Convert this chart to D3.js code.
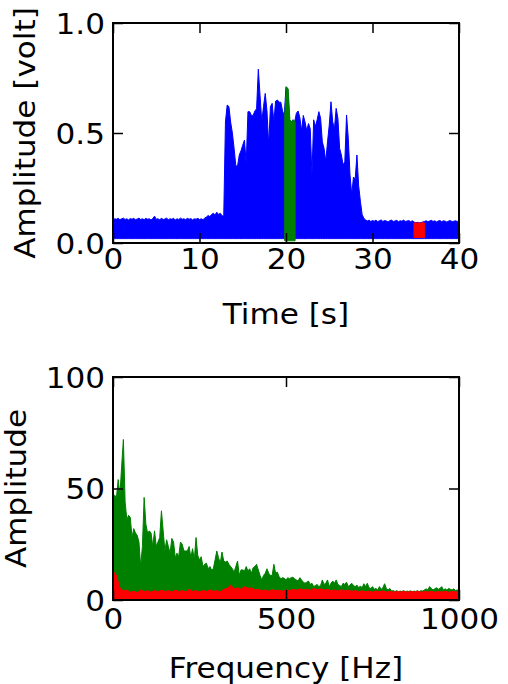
<!DOCTYPE html>
<html>
<head>
<meta charset="utf-8">
<script src="https://cdn.jsdelivr.net/npm/d3@7"></script>
<style>
  body { margin: 0; background: #fff; }
  svg { display: block; font-family: "DejaVu Sans", sans-serif; }
  .tick text { font-size: 28px; fill: #000; }
  .axis-label { font-size: 28px; fill: #000; }
</style>
</head>
<body>
<svg id="chart"></svg>
<script>
// Time signal: upper envelope of the trace, one value every 0.2 s (0 .. 40 s)
const signalStep = 0.2;
const signalPeaks = [
  0.105, 0.110, 0.108, 0.112, 0.106, 0.110, 0.113, 0.107, 0.110, 0.105,
  0.111, 0.108, 0.112, 0.106, 0.109, 0.113, 0.107, 0.110, 0.106, 0.112,
  0.108, 0.110, 0.105, 0.111, 0.122, 0.108, 0.110, 0.106, 0.112, 0.107,
  0.109, 0.113, 0.106, 0.110, 0.108, 0.112, 0.105, 0.110, 0.107, 0.113,
  0.108, 0.110, 0.106, 0.112, 0.108, 0.111, 0.105, 0.110, 0.108, 0.112,
  0.107, 0.110, 0.106, 0.113, 0.118, 0.125, 0.120, 0.130, 0.135, 0.128,
  0.140, 0.130, 0.135, 0.125, 0.120, 0.550, 0.627, 0.620, 0.550, 0.500,
  0.430, 0.350, 0.350, 0.400, 0.420, 0.445, 0.468, 0.360, 0.597, 0.597,
  0.580, 0.580, 0.600, 0.610, 0.790, 0.670, 0.550, 0.620, 0.680, 0.600,
  0.445, 0.620, 0.635, 0.550, 0.645, 0.650, 0.640, 0.640, 0.600, 0.580,
  0.710, 0.700, 0.560, 0.550, 0.560, 0.550, 0.590, 0.600, 0.570, 0.510,
  0.580, 0.550, 0.510, 0.543, 0.520, 0.310, 0.560, 0.530, 0.560, 0.597,
  0.567, 0.460, 0.430, 0.370, 0.460, 0.536, 0.642, 0.550, 0.520, 0.612,
  0.567, 0.430, 0.400, 0.355, 0.370, 0.582, 0.476, 0.310, 0.220, 0.300,
  0.290, 0.400, 0.260, 0.190, 0.130, 0.112, 0.105, 0.100, 0.104, 0.098,
  0.102, 0.099, 0.104, 0.097, 0.101, 0.105, 0.098, 0.102, 0.100, 0.096,
  0.101, 0.104, 0.098, 0.100, 0.103, 0.097, 0.101, 0.099, 0.104, 0.098,
  0.100, 0.102, 0.097, 0.101, 0.095, 0.092, 0.094, 0.091, 0.093, 0.095,
  0.098, 0.101, 0.097, 0.100, 0.103, 0.098, 0.101, 0.096, 0.100, 0.102,
  0.097, 0.101, 0.099, 0.095, 0.100, 0.102, 0.097, 0.099, 0.101, 0.098, 0.100
];
const noiseFloor = 0.02;

// highlighted windows of the signal
const windowStep = 0.2;
const greenStart = 19.85;
const greenPeaks = [0.58, 0.71, 0.70, 0.56, 0.55, 0.56, 0.55];
const greenFloor = 0.01;
const redStart = 34.8;
const redPeaks = [0.090, 0.093, 0.089, 0.092, 0.090, 0.094, 0.091];
const redFloor = 0.025;

const timeTicks = [0, 10, 20, 30, 40];
const voltTicks = [0, 0.5, 1.0];

// Spectra of the two windows
const greenFreqStep = 5;
const greenSpectrum = [
  47, 47, 46, 54, 47, 60, 72, 44, 36, 38,
  37, 28, 32, 30, 29, 26, 15, 24, 46, 34,
  30, 31, 30, 24, 31, 24, 26, 28, 40, 31,
  22, 27, 24, 21, 27.6, 26, 19, 21, 19.5, 26,
  25, 22, 22, 22, 24, 19, 23, 18, 28, 20,
  18, 19.4, 15, 16, 16.5, 14, 15, 13.5, 14, 18,
  22, 19, 16.5, 21.5, 17.5, 17, 17.5, 16, 15, 14,
  12.5, 15, 17.5, 11, 13.5, 13.5, 13, 15, 13, 14,
  12, 14.5, 15, 16, 13.5, 11, 9, 11, 12, 14,
  12, 11, 11, 16, 12, 12.5, 10.5, 9.5, 10, 9.8,
  9, 10, 9.5, 10, 10.2, 9.5, 9, 8.5, 10, 9,
  8, 7.5, 8, 8.5, 7, 7.5, 6, 6.5, 7, 6,
  6.5, 9, 7, 7.5, 9, 6, 7.5, 8.5, 7.5, 9,
  7, 6.5, 6, 7.5, 7, 8, 6, 6.8, 7.5, 6.5,
  6, 6.7, 5.5, 6.3, 5.5, 7.3, 6, 7.5, 5.5, 5.2,
  6, 4.8, 5.2, 4.5, 6, 4.8, 5.5, 7.3, 5.2, 4.5,
  5.2, 4, 4.2, 3.8, 4.2, 3.7, 4, 3.8, 4.2, 3.7,
  4, 3.8, 4.1, 3.7, 4, 3.8, 4.2, 3.7, 4.2, 4,
  4.5, 5, 4.5, 6, 5.2, 4.5, 5, 5.5, 4.8, 5.2,
  6, 4.5, 5, 4.5, 5.2, 4.8, 4.5, 5, 4.2, 4.5, 4.5
];
const redFreqStep = 10;
const redSpectrum = [
  13, 11, 5.5, 4, 4.5, 3.5, 4, 3.2, 4.5, 3.8,
  4.2, 3.5, 4.4, 3.6, 4.5, 3.8, 4.2, 3.5, 4.6, 3.8,
  4.2, 3.6, 4.8, 3.9, 4.2, 3.5, 4.4, 3.8, 4.6, 3.9,
  4.2, 3.7, 4.8, 5.2, 6.7, 5.0, 5.5, 4.8, 6.0, 5.2,
  5.5, 4.6, 4.8, 4.2, 4.5, 4.0, 4.6, 4.2, 4.4, 4.0,
  4.5, 4.2, 4.8, 4.4, 5.0, 4.5, 4.8, 4.4, 5.2, 4.6,
  5.0, 4.5, 4.8, 4.2, 4.5, 4.0, 4.6, 4.1, 4.4, 3.9,
  4.2, 3.8, 4.1, 3.7, 4.0, 3.6, 4.0, 3.7, 4.1, 3.6,
  3.9, 3.5, 3.8, 3.6, 3.9, 3.5, 3.8, 3.6, 3.9, 3.5,
  3.8, 3.6, 3.9, 3.5, 3.8, 3.6, 3.9, 3.5, 3.8, 3.6, 3.7
];

const freqTicks = [0, 500, 1000];
const ampTicks = [0, 50, 100];

// Svg element dimensions
const width = 508;
const height = 684;
const svg = d3.select("#chart").attr("width", width).attr("height", height);

const plotLeft = 113;
const plotRight = 459;
// the lettering in the original runs a little wider than DejaVu at its height
const stretch = 1.11;

// frame, inward ticks on all four sides, tick labels on left/bottom
function drawAxes(g, x, y, xTicks, yTicks, xFormat, yFormat, xPad) {
  const h = y.range()[0];
  const w = x.range()[1];

  const bottom = g.append("g")
    .attr("transform", `translate(0, ${h})`)
    .call(d3.axisBottom(x).tickValues(xTicks).tickSize(-10).tickPadding(xPad).tickFormat(xFormat));
  const top = g.append("g")
    .call(d3.axisTop(x).tickValues(xTicks).tickSize(-10).tickFormat(""));
  const leftAx = g.append("g")
    .call(d3.axisLeft(y).tickValues(yTicks).tickSize(-10).tickPadding(8 / stretch).tickFormat(yFormat));
  const rightAx = g.append("g")
    .attr("transform", `translate(${w}, 0)`)
    .call(d3.axisRight(y).tickValues(yTicks).tickSize(-10).tickFormat(""));

  leftAx.selectAll(".tick text").attr("dy", "0.36em");

  [bottom, top, leftAx, rightAx].forEach((a) => {
    a.select(".domain").remove();
    a.selectAll(".tick line").attr("stroke", "#000").attr("stroke-width", 1.5);
    a.selectAll(".tick text").attr("transform", `scale(${stretch}, 1)`);
    a.attr("font-family", null).attr("font-size", null);
  });

  g.append("rect")
    .attr("width", w)
    .attr("height", h)
    .attr("fill", "none")
    .attr("stroke", "#000")
    .attr("stroke-width", 2);
}

function axisLabel(parent, x, y, rotate, text) {
  parent.append("text")
    .attr("class", "axis-label")
    .attr("transform", `translate(${x}, ${y})${rotate ? " rotate(-90)" : ""} scale(${stretch}, 1)`)
    .attr("text-anchor", "middle")
    .text(text);
}

// ---------- top panel: time signal ----------
const top1 = 23, bottom1 = 243;
const g1 = svg.append("g").attr("transform", `translate(${plotLeft}, ${top1})`);

const xTime = d3.scaleLinear().domain([0, 40]).range([0, plotRight - plotLeft]);
const yVolt = d3.scaleLinear().domain([0, 1]).range([bottom1 - top1, 0]);

g1.append("clipPath").attr("id", "clip1")
  .append("rect").attr("width", plotRight - plotLeft).attr("height", bottom1 - top1);

const data1 = g1.append("g").attr("clip-path", "url(#clip1)");

const signalArea = (floor, start, step) => d3.area()
  .x((d, i) => xTime(start + i * step))
  .y0(yVolt(floor))
  .y1((d) => yVolt(d));

data1.append("path")
  .datum(signalPeaks)
  .attr("d", signalArea(noiseFloor, 0, signalStep))
  .attr("fill", "#0000ff")
  .attr("stroke", "#0000ff")
  .attr("stroke-width", 1);

data1.append("path")
  .datum(greenPeaks)
  .attr("d", signalArea(greenFloor, greenStart, windowStep))
  .attr("fill", "#008000")
  .attr("stroke", "#008000")
  .attr("stroke-width", 1);

data1.append("path")
  .datum(redPeaks)
  .attr("d", signalArea(redFloor, redStart, windowStep))
  .attr("fill", "#ff0000")
  .attr("stroke", "#ff0000")
  .attr("stroke-width", 1);

drawAxes(g1, xTime, yVolt, timeTicks, voltTicks, d3.format("d"), d3.format(".1f"), 6);

axisLabel(svg, (plotLeft + plotRight) / 2, 324, false, "Time [s]");
axisLabel(svg, 35, (top1 + bottom1) / 2, true, "Amplitude [volt]");

// ---------- bottom panel: spectra ----------
const top2 = 377, bottom2 = 600;
const g2 = svg.append("g").attr("transform", `translate(${plotLeft}, ${top2})`);

const xFreq = d3.scaleLinear().domain([0, 1000]).range([0, plotRight - plotLeft]);
const yAmp = d3.scaleLinear().domain([0, 100]).range([bottom2 - top2, 0]);

g2.append("clipPath").attr("id", "clip2")
  .append("rect").attr("width", plotRight - plotLeft).attr("height", bottom2 - top2);

const data2 = g2.append("g").attr("clip-path", "url(#clip2)");

const spectrumArea = (step) => d3.area()
  .x((d, i) => xFreq(i * step))
  .y0(yAmp(0))
  .y1((d) => yAmp(d));

data2.append("path")
  .datum(greenSpectrum)
  .attr("d", spectrumArea(greenFreqStep))
  .attr("fill", "#008000")
  .attr("stroke", "#008000")
  .attr("stroke-width", 1);

data2.append("path")
  .datum(redSpectrum)
  .attr("d", spectrumArea(redFreqStep))
  .attr("fill", "#ff0000")
  .attr("stroke", "#ff0000")
  .attr("stroke-width", 1);

drawAxes(g2, xFreq, yAmp, freqTicks, ampTicks, d3.format("d"), d3.format("d"), 9);

axisLabel(svg, (plotLeft + plotRight) / 2, 678, false, "Frequency [Hz]");
axisLabel(svg, 26, (top2 + bottom2) / 2, true, "Amplitude");
</script>
</body>
</html>
